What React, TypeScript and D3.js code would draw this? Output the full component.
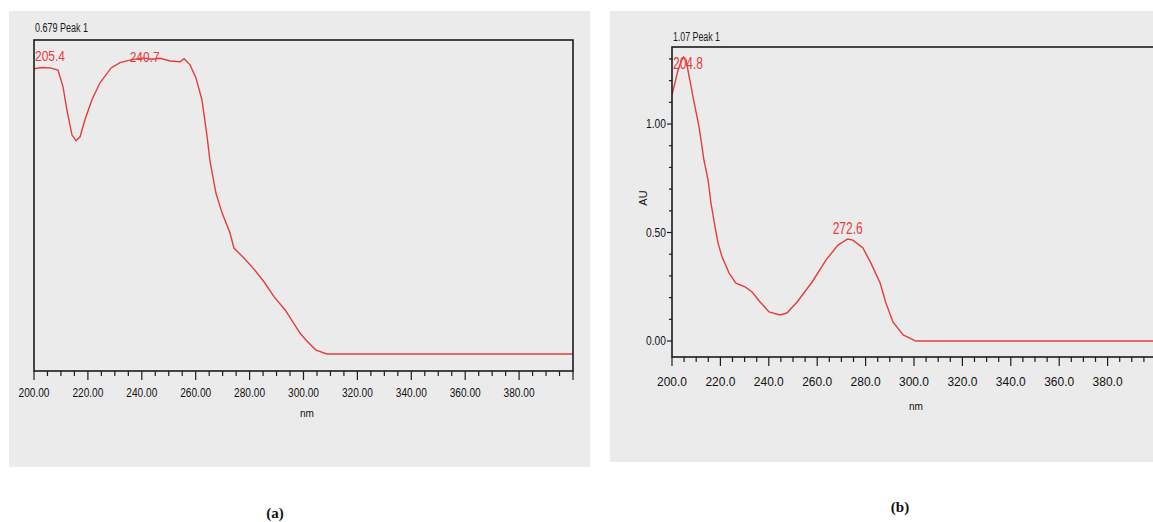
import React from "react";
import * as d3 from "d3";

// ---- Data ----
const A_NM = [200, 203, 206, 208.9, 210.8, 212.2, 214.1, 215.6, 217.1, 218.9, 221.5, 224.5, 228.6, 231.9, 235.6, 240.7, 243.5, 246.8, 250.5, 254.2, 255.7, 257.9, 260.1, 262.3, 264.2, 265.3, 267.5, 269.8, 272.7, 274.2, 277.6, 281.3, 285.4, 289.1, 293.2, 298.7, 300.9, 304.6, 308.7, 400];
const A_AU = [0.654, 0.657, 0.656, 0.651, 0.612, 0.56, 0.502, 0.489, 0.498, 0.537, 0.583, 0.622, 0.656, 0.668, 0.674, 0.679, 0.676, 0.678, 0.672, 0.67, 0.677, 0.663, 0.633, 0.583, 0.5, 0.442, 0.369, 0.323, 0.278, 0.243, 0.222, 0.197, 0.165, 0.131, 0.101, 0.048, 0.032, 0.009, 0, 0];

const B_NM = [200, 202.5, 203.7, 204.8, 205.8, 208.7, 211.2, 213.2, 214.9, 216.1, 217.8, 219.0, 220.7, 223.6, 226.4, 230.2, 233.1, 236.4, 240.1, 244.6, 247.5, 251.7, 257.9, 263.6, 268.6, 272.6, 274.7, 278.9, 282.2, 286.0, 288.4, 291.3, 295.5, 300.8, 400];
const B_AU = [1.134, 1.249, 1.286, 1.309, 1.295, 1.124, 0.986, 0.834, 0.742, 0.636, 0.525, 0.452, 0.387, 0.313, 0.267, 0.249, 0.226, 0.18, 0.134, 0.12, 0.129, 0.18, 0.272, 0.373, 0.442, 0.47, 0.465, 0.429, 0.359, 0.267, 0.175, 0.088, 0.028, 0, 0];

const X_TICKS = [200, 220, 240, 260, 280, 300, 320, 340, 360, 380];
const B_Y_TICKS = [0, 0.5, 1.0];
const A_PEAKS = [{ nm: 205.4, label: "205.4" }, { nm: 240.7, label: "240.7" }];
const B_PEAKS = [{ nm: 204.8, label: "204.8" }, { nm: 272.6, label: "272.6" }];
const TITLE_A = "0.679 Peak 1";
const TITLE_B = "1.07 Peak 1";

const RED = "#e63c3c";
const AXIS = "#1c1c1c";
const BG = "#ebebeb";
const FONT = "Arial, 'Liberation Sans', sans-serif";

export default function App() {
  // Panel A scales
  const xa = d3.scaleLinear().domain([200, 400]).range([34, 573]);
  const ya = d3.scaleLinear().domain([-0.039, 0.72]).range([371, 40]);
  // Panel B scales
  const xb = d3.scaleLinear().domain([200, 400]).range([672, 1156]);
  const yb = d3.scaleLinear().domain([-0.0737, 1.355]).range([357, 47]);

  const lineA = d3.line<number>().x((_, i) => xa(A_NM[i])).y((d) => ya(d));
  const lineB = d3.line<number>().x((_, i) => xb(B_NM[i])).y((d) => yb(d));

  const minorA = d3.range(200, 400.1, 5);
  const minorBy = d3.range(0, 1.31, 0.1);
  const fmtA = d3.format(".2f");
  const fmtB = d3.format(".1f");
  const fmtY = d3.format(".2f");

  const [ax0, ax1] = xa.range();
  const [ay0, ay1] = ya.range(); // bottom, top
  const [bx0, bx1] = xb.range();
  const [by0, by1] = yb.range();

  return (
    <svg width={1153} height={522} style={{ position: "absolute", left: 0, top: 0, background: "#fff" }} fontFamily={FONT}>
      <defs>
        <clipPath id="clipA"><rect x={ax0} y={ay1} width={ax1 - ax0} height={ay0 - ay1} /></clipPath>
        <clipPath id="clipB"><rect x={bx0} y={by1} width={bx1 - bx0} height={by0 - by1} /></clipPath>
      </defs>
      {/* Panel backgrounds */}
      <rect x={9} y={11} width={581} height={456} fill={BG} />
      <rect x={610} y={11} width={543} height={451} fill={BG} />

      {/* ===== Panel A ===== */}
      <text x={35} y={32} fontSize={12} textLength={53} lengthAdjust="spacingAndGlyphs" fill="#1a1a1a">{TITLE_A}</text>
      <path d={lineA(A_AU) || ""} fill="none" stroke={RED} strokeWidth={1.4} clipPath="url(#clipA)" />
      <rect x={ax0} y={ay1} width={ax1 - ax0} height={ay0 - ay1} fill="none" stroke={AXIS} strokeWidth={1.6} />
      {minorA.map((v) => (
        <line key={"ma" + v} x1={xa(v)} x2={xa(v)} y1={ay0} y2={ay0 + (v % 20 === 0 ? 9 : 5)} stroke={AXIS} strokeWidth={1.2} />
      ))}
      {X_TICKS.map((v) => (
        <text key={"la" + v} x={xa(v)} y={397} fontSize={13} textAnchor="middle" textLength={31} lengthAdjust="spacingAndGlyphs" fill="#111">{fmtA(v)}</text>
      ))}
      <text x={307} y={417} fontSize={11} textAnchor="middle" textLength={14} lengthAdjust="spacingAndGlyphs" fill="#111">nm</text>
      {A_PEAKS.map((p, i) => (
        <text key={"pa" + i} x={i === 0 ? ax0 + 1 : xa(p.nm) - 14} y={i === 0 ? 61 : 62} fontSize={14} textLength={30} lengthAdjust="spacingAndGlyphs" fill={RED}>{p.label}</text>
      ))}
      <text x={275} y={518} fontSize={15} fontWeight="bold" textAnchor="middle" fontFamily="'Liberation Serif', 'DejaVu Serif', serif" fill="#111">(a)</text>

      {/* ===== Panel B ===== */}
      <text x={673} y={41} fontSize={12} textLength={47} lengthAdjust="spacingAndGlyphs" fill="#1a1a1a">{TITLE_B}</text>
      <path d={lineB(B_AU) || ""} fill="none" stroke={RED} strokeWidth={1.4} clipPath="url(#clipB)" />
      <rect x={bx0} y={by1} width={bx1 - bx0} height={by0 - by1} fill="none" stroke={AXIS} strokeWidth={1.6} />
      {minorA.map((v) => (
        <line key={"mb" + v} x1={xb(v)} x2={xb(v)} y1={by0} y2={by0 + (v % 20 === 0 ? 9 : 5)} stroke={AXIS} strokeWidth={1.2} />
      ))}
      {X_TICKS.map((v) => (
        <text key={"lb" + v} x={xb(v)} y={386} fontSize={13} textAnchor="middle" textLength={30} lengthAdjust="spacingAndGlyphs" fill="#111">{fmtB(v)}</text>
      ))}
      {minorBy.map((v) => {
        const major = Math.abs(v - Math.round(v * 2) / 2) < 1e-6;
        return <line key={"yb" + v} x1={bx0} x2={bx0 - (major ? 5 : 3)} y1={yb(v)} y2={yb(v)} stroke={AXIS} strokeWidth={1.2} />;
      })}
      {B_Y_TICKS.map((v) => (
        <text key={"ly" + v} x={666} y={yb(v) + 4} fontSize={12} textAnchor="end" textLength={20} lengthAdjust="spacingAndGlyphs" fill="#111">{fmtY(v)}</text>
      ))}
      <text transform="translate(647,198) rotate(-90)" fontSize={11} textAnchor="middle" fill="#111">AU</text>
      <text x={916} y={410} fontSize={11} textAnchor="middle" textLength={14} lengthAdjust="spacingAndGlyphs" fill="#111">nm</text>
      {B_PEAKS.map((p, i) => (
        <text key={"pb" + i} x={i === 0 ? bx0 + 1 : xb(p.nm) - 15} y={i === 0 ? 69 : 234} fontSize={17} textLength={30} lengthAdjust="spacingAndGlyphs" fill={RED}>{p.label}</text>
      ))}
      <text x={900} y={512} fontSize={15} fontWeight="bold" textAnchor="middle" fontFamily="'Liberation Serif', 'DejaVu Serif', serif" fill="#111">(b)</text>
    </svg>
  );
}
